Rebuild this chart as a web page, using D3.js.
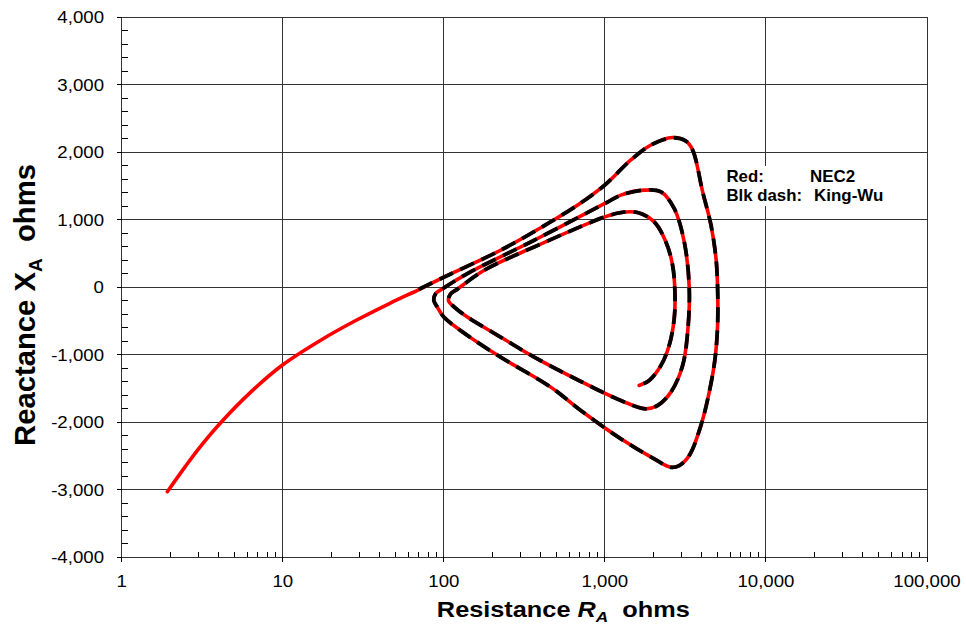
<!DOCTYPE html>
<html><head><meta charset="utf-8">
<script src="https://cdn.jsdelivr.net/npm/d3@7"></script>
<style>
body{margin:0;background:#fff}
svg{display:block}
text{font-family:"Liberation Sans",Arial,sans-serif;fill:#000}
</style>
</head><body>
<svg id="chart" width="966" height="632"></svg>
<script>
// ---------- data ----------
const xTickValues = [1, 10, 100, 1000, 10000, 100000];
const yTickValues = [-4000, -3000, -2000, -1000, 0, 1000, 2000, 3000, 4000];

// NEC2 (red, solid)
const necR = [1.92, 2.48, 3.07, 4.09, 6.28, 10.0, 17.1, 28.2, 46.6, 71.6, 100, 225, 417, 708, 1000, 1449, 1931, 2633, 3184, 3508, 4047, 4560, 4898, 5010, 5010, 4830, 4446, 3947, 3340, 2893, 2570, 2024, 1256, 709, 461, 225, 140, 100, 91, 86.7, 89, 100, 140, 364, 1000, 1256, 1754, 2230, 2694, 3110, 3340, 3265, 3040, 2570, 2125, 1796, 1256, 709, 364, 225, 140, 116, 107, 110, 121, 178, 364, 1000, 1256, 1595, 2024, 2393, 2633, 2722, 2694, 2507, 2230, 1884, 1632];
const necX = [-3028, -2656, -2363, -2013, -1560, -1148, -787, -496, -233, -22, 150, 549, 908, 1249, 1516, 1886, 2108, 2219, 2166, 2033, 1414, 920, 425, 0, -564, -1058, -1553, -2047, -2493, -2641, -2666, -2542, -2245, -1825, -1479, -1034, -712, -440, -292, -193, -94, -10, 203, 697, 1242, 1365, 1439, 1414, 1168, 672, 0, -663, -1157, -1553, -1751, -1800, -1677, -1395, -1034, -737, -440, -292, -200, -100, -30, 252, 598, 1043, 1108, 1108, 969, 672, 326, -70, -465, -861, -1157, -1380, -1454];

// King-Wu (black, dashed)
const kwR = [70, 100, 225, 417, 708, 1000, 1449, 1931, 2633, 3184, 3508, 4047, 4560, 4898, 5010, 5010, 4830, 4446, 3947, 3340, 2893, 2570, 2024, 1256, 709, 461, 225, 140, 100, 91, 86.7, 89, 100, 140, 364, 1000, 1256, 1754, 2230, 2694, 3110, 3340, 3265, 3040, 2570, 2125, 1796, 1256, 709, 364, 225, 140, 116, 107, 110, 121, 178, 364, 1000, 1256, 1595, 2024, 2393, 2633, 2722, 2694, 2507, 2230, 1884, 1632];
const kwX = [-30, 150, 549, 908, 1249, 1516, 1886, 2108, 2215, 2166, 2033, 1414, 920, 425, 0, -564, -1058, -1553, -2047, -2493, -2641, -2666, -2542, -2245, -1825, -1479, -1034, -712, -440, -292, -193, -94, -10, 203, 697, 1242, 1365, 1439, 1414, 1168, 672, 0, -663, -1157, -1553, -1751, -1800, -1677, -1395, -1034, -737, -440, -292, -200, -100, -30, 252, 598, 1043, 1108, 1108, 969, 672, 326, -70, -465, -861, -1157, -1380, -1454];

const legendKeys = ["Red:", "Blk dash:"];
const legendNames = ["NEC2", "King-Wu"];

// ---------- layout ----------
const svg = d3.select("#chart");
const L = 121.7, Rr = 927, T = 17.3, B = 557.3;
const x = d3.scaleLog().domain([1, 100000]).range([L, Rr]);
const y = d3.scaleLinear().domain([-4000, 4000]).range([B, T]);
const fmt = v => d3.format(",")(v).replace("\u2212", "-");
const gridColor = "#333";

// gridlines
const grid = svg.append("g").attr("shape-rendering", "crispEdges");
grid.selectAll(".hg").data(yTickValues).join("line")
  .attr("x1", L).attr("x2", Rr).attr("y1", d => y(d)).attr("y2", d => y(d))
  .attr("stroke", gridColor).attr("stroke-width", 1);
grid.selectAll(".vg").data(xTickValues).join("line")
  .attr("y1", T).attr("y2", B).attr("x1", d => x(d)).attr("x2", d => x(d))
  .attr("stroke", gridColor).attr("stroke-width", 1);

// ticks
const ticks = svg.append("g").attr("shape-rendering", "crispEdges").attr("stroke", "#000");
ticks.selectAll(".ymaj").data(yTickValues).join("line")
  .attr("x1", L - 5).attr("x2", L).attr("y1", d => y(d)).attr("y2", d => y(d));
const yMinor = d3.range(-4000, 4001, 200).filter(v => v % 1000 !== 0);
ticks.selectAll(".ymin").data(yMinor).join("line")
  .attr("x1", L).attr("x2", L + 6).attr("y1", d => y(d)).attr("y2", d => y(d));
ticks.selectAll(".xmaj").data(xTickValues).join("line")
  .attr("y1", B).attr("y2", B + 5).attr("x1", d => x(d)).attr("x2", d => x(d));
const xMinor = [];
[1, 10, 100, 1000, 10000].forEach(d => { for (let k = 2; k <= 9; k++) xMinor.push(d * k); });
ticks.selectAll(".xmin").data(xMinor).join("line")
  .attr("y1", B - 5.5).attr("y2", B).attr("x1", d => x(d)).attr("x2", d => x(d));

// tick labels
const tickFont = 16.5, tickSx = 1.13;
svg.append("g").selectAll("text").data(yTickValues).join("text")
  .attr("transform", d => `translate(104,${y(d) + 6}) scale(${tickSx},1)`)
  .attr("text-anchor", "end").attr("font-size", tickFont).attr("fill", "#111")
  .text(d => fmt(d));
svg.append("g").selectAll("text").data(xTickValues).join("text")
  .attr("transform", d => `translate(${x(d)},587) scale(${tickSx},1)`)
  .attr("text-anchor", "middle").attr("font-size", tickFont).attr("fill", "#111")
  .text(d => fmt(d));

// curves
const line = d3.line().x(d => x(d[0])).y(d => y(d[1])).curve(d3.curveCatmullRom.alpha(0.5));
const necPts = necR.map((r, i) => [r, necX[i]]);
const kwPts = kwR.map((r, i) => [r, kwX[i]]);
svg.append("path").attr("d", line(necPts)).attr("fill", "none")
  .attr("stroke", "#ff0000").attr("stroke-width", 3.6).attr("stroke-linejoin", "round").attr("stroke-linecap", "round");
svg.append("path").attr("d", line(kwPts)).attr("fill", "none")
  .attr("stroke", "#000").attr("stroke-width", 3.8).attr("stroke-dasharray", "15,8");

// legend
svg.append("rect").attr("x", 723).attr("y", 166).attr("width", 168).attr("height", 40).attr("fill", "#fff");
const lg = svg.append("g").attr("font-weight", "bold").attr("font-size", 16);
legendKeys.forEach((k, i) => {
  lg.append("text").attr("transform", `translate(726.5,${181.7 + i * 19.5}) scale(1.05,1)`).text(k);
});
legendNames.forEach((k, i) => {
  lg.append("text").attr("transform", `translate(${i === 0 ? 810 : 814},${181.7 + i * 19.5}) scale(1.06,1)`).text(k);
});

// x title
const xt = svg.append("g");
const xtText = xt.append("text").attr("font-weight", "bold").attr("font-size", 22)
  .attr("text-anchor", "middle").style("white-space", "pre");
xtText.append("tspan").text("Resistance ");
xtText.append("tspan").attr("font-style", "italic").text("R");
xtText.append("tspan").attr("font-style", "italic").attr("font-size", 15).attr("dy", 5).text("A");
xtText.append("tspan").attr("dy", -5).text("  ohms");
{
  const w = xtText.node().getBBox().width;
  xt.attr("transform", `translate(563.3,616.7) scale(${253 / w},1)`);
}

// y title
const yt = svg.append("g");
const ytText = yt.append("text").attr("font-weight", "bold").attr("font-size", 26)
  .attr("text-anchor", "middle").style("white-space", "pre");
ytText.append("tspan").text("Reactance ");
ytText.append("tspan").text("X");
ytText.append("tspan").attr("font-size", 17).attr("dy", 6).text("A");
ytText.append("tspan").attr("dy", -6).text("  ohms");
{
  const w = ytText.node().getBBox().width;
  yt.attr("transform", `translate(35,305) rotate(-90) scale(${282 / w},1.12)`);
}
</script>
</body></html>
